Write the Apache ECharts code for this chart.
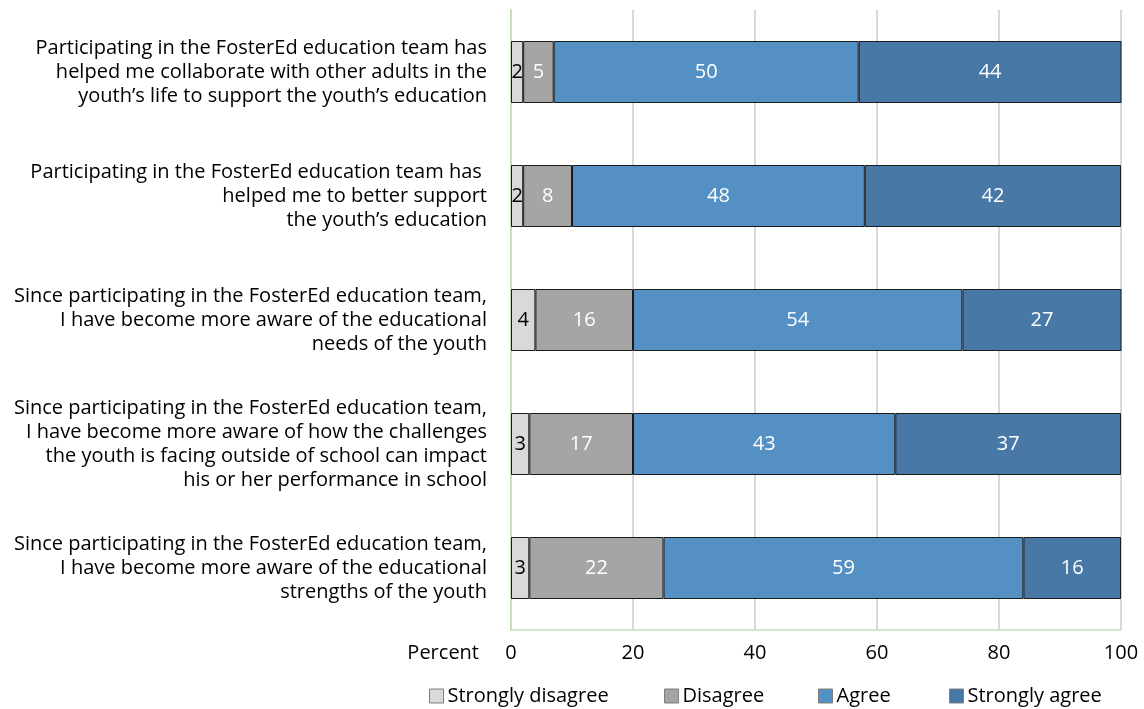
<!DOCTYPE html>
<html><head><meta charset="utf-8">
<script src="https://cdn.jsdelivr.net/npm/echarts@6/dist/echarts.min.js"></script>
<style>html,body{margin:0;padding:0;background:#fff}#c{width:1144px;height:709px}</style>
</head><body><div id="c"></div>
<script>
const categories = [
  "Participating in the FosterEd education team has\nhelped me collaborate with other adults in the\nyouth\u2019s life to support the youth\u2019s education",
  "Participating in the FosterEd education team has \nhelped me to better support\nthe youth\u2019s education",
  "Since participating in the FosterEd education team,\nI have become more aware of the educational\nneeds of the youth",
  "Since participating in the FosterEd education team,\nI have become more aware of how the challenges\nthe youth is facing outside of school can impact\nhis or her performance in school",
  "Since participating in the FosterEd education team,\nI have become more aware of the educational\nstrengths of the youth"
];
const stronglyDisagree = [2, 2, 4, 3, 3];
const disagree = [5, 8, 16, 17, 22];
const agree = [50, 48, 54, 43, 59];
const stronglyAgree = [44, 42, 27, 37, 16];
const xTicks = [0, 20, 40, 60, 80, 100];
const legendNames = ['Strongly disagree', 'Disagree', 'Agree', 'Strongly agree'];

const FONT = 'Open Sans';
const FS = 20;
const colors = ['#d9d9d9', '#a5a5a5', '#5590c4', '#4878a5'];
const labelColors = ['#000', '#fff', '#fff', '#fff'];
const values = [stronglyDisagree, disagree, agree, stronglyAgree];
const legendLeft = [424, 659, 813, 944];

const chart = echarts.init(document.getElementById('c'));
chart.setOption({
  animation: false,
  textStyle: { fontFamily: FONT },
  grid: { left: 511, right: 23, top: 10, bottom: 79, containLabel: false },
  legend: legendNames.map((n, i) => ({
    left: legendLeft[i], top: 681,
    itemWidth: 14, itemHeight: 14, itemGap: 0,
    icon: 'rect',
    textStyle: { fontFamily: FONT, fontSize: FS, color: '#000', padding: [0, 0, 0, -1] },
    data: [{ name: n, itemStyle: { color: colors[i], borderColor: '#7f7f7f', borderWidth: 1 } }]
  })),
  xAxis: {
    type: 'value', min: xTicks[0], max: xTicks[xTicks.length - 1], interval: 20,
    name: 'Percent', nameLocation: 'start', nameGap: 32,
    nameTextStyle: { fontFamily: FONT, fontSize: FS, color: '#000', verticalAlign: 'top', padding: [13, 0, 0, 0] },
    axisLine: { show: true, lineStyle: { color: '#c5e0b3', width: 1.5 } },
    axisTick: { show: false },
    axisLabel: { fontFamily: FONT, fontSize: FS, color: '#000', margin: 13 },
    splitLine: { show: true, lineStyle: { color: '#d9d9d9', width: 2 } }
  },
  yAxis: {
    type: 'category', inverse: true, data: categories,
    axisLine: { show: true, lineStyle: { color: '#c5e0b3', width: 2 } },
    axisTick: { show: false },
    axisLabel: { fontFamily: FONT, fontSize: FS, color: '#000', margin: 24, lineHeight: 24, align: 'right' }
  },
  series: values.map((v, i) => ({
    name: legendNames[i], type: 'bar', stack: 'total', barWidth: 62, data: v,
    itemStyle: { color: colors[i], borderColor: '#1a1a1a', borderWidth: 1 },
    label: { show: true, position: 'inside', fontFamily: FONT, fontSize: FS, color: labelColors[i] }
  }))
});
</script></body></html>
